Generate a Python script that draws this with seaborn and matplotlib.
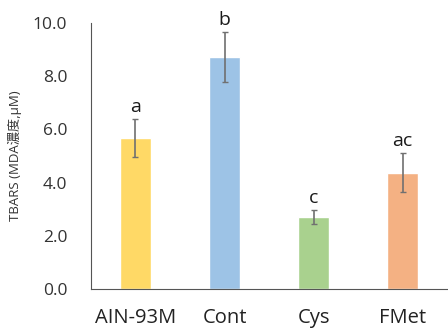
import matplotlib
matplotlib.use("Agg")
import matplotlib.pyplot as plt
import seaborn as sns
import pandas as pd

categories = ["AIN-93M", "Cont", "Cys", "FMet"]
values = [5.68, 8.72, 2.71, 4.37]
errors = [0.71, 0.93, 0.27, 0.74]
letters = ["a", "b", "c", "ac"]
colors = ["#FFD966", "#9DC3E6", "#A9D18E", "#F4B183"]
yticks = [0, 2, 4, 6, 8, 10]

sns.set_style("white")
plt.rcParams['font.family'] = ['Open Sans', 'Noto Sans CJK JP', 'DejaVu Sans']

df = pd.DataFrame({"group": categories, "value": values})

fig = plt.figure(figsize=(4.48, 3.32), dpi=100)
ax = fig.add_axes([0.203, 0.1295, 0.795, 0.8012])
sns.barplot(data=df, x="group", y="value", hue="group", palette=colors,
            width=0.34, ax=ax, legend=False, errorbar=None, saturation=1)
ax.errorbar(range(len(categories)), values, yerr=errors, fmt="none",
            ecolor="#707070", elinewidth=1.2, capsize=2, capthick=1)
for i, (v, e, l) in enumerate(zip(values, errors, letters)):
    ax.text(i, v + e + 0.12, l, ha="center", va="bottom", fontsize=14,
            color="#1a1a1a")

ax.set_ylim(0, 10)
ax.set_xlim(-0.5, 3.5)
ax.set_yticks(yticks)
ax.set_yticklabels([f"{t:.1f}" for t in yticks], fontsize=12.5, color="#333333")
ax.set_xticks(range(len(categories)))
ax.set_xticklabels(categories, fontsize=14.5, color="#222222")
ax.set_xlabel("")
ax.set_ylabel("TBARS (MDA濃度,μM)", fontsize=9.5, color="#333333", labelpad=8)
ax.tick_params(axis="y", direction="out", length=5, width=0.8, color="#555555", pad=12)
ax.tick_params(axis="x", length=0, pad=14)
for s in ["top", "right"]:
    ax.spines[s].set_visible(False)
ax.spines["left"].set_color("#555555")
ax.spines["bottom"].set_color("#555555")
ax.spines["left"].set_linewidth(0.8)
ax.spines["bottom"].set_linewidth(0.8)

fig.savefig("out.png", dpi=100)
